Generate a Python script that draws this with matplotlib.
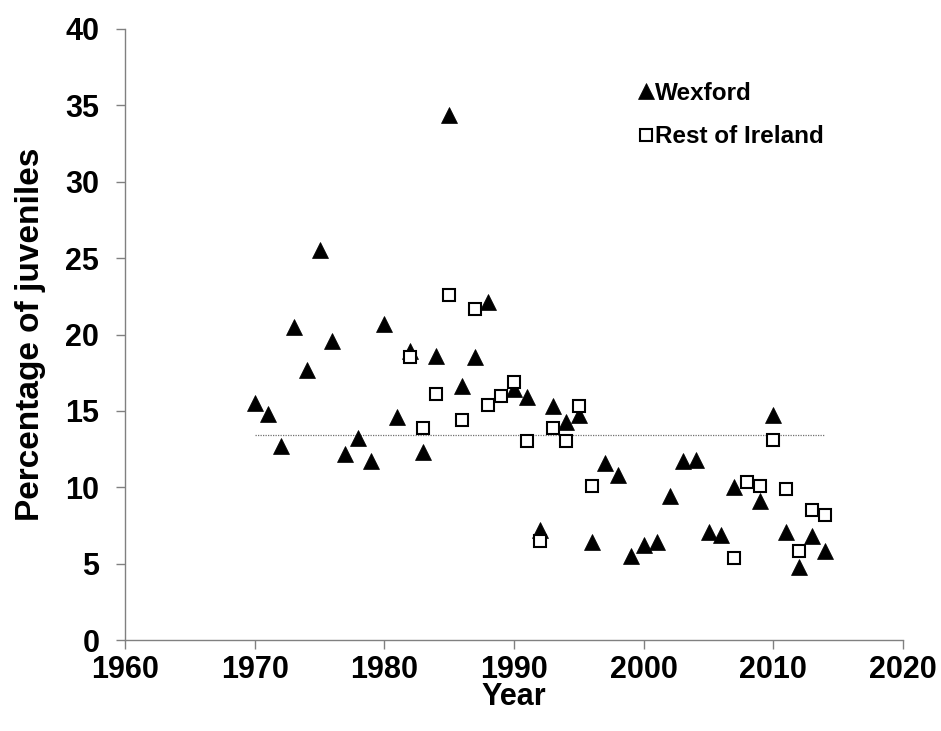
import matplotlib
matplotlib.use("Agg")
import matplotlib.pyplot as plt

plt.rcParams['font.family'] = ['Liberation Sans', 'DejaVu Sans']

# ---- data ----
wex_years = [1970, 1971, 1972, 1973, 1974, 1975, 1976, 1977, 1978, 1979,
             1980, 1981, 1982, 1983, 1984, 1985, 1986, 1987, 1988, 1990,
             1991, 1992, 1993, 1994, 1995, 1996, 1997, 1998, 1999, 2000,
             2001, 2002, 2003, 2004, 2005, 2006, 2007, 2009, 2010, 2011,
             2012, 2013, 2014]
wex_pct = [15.5, 14.8, 12.7, 20.5, 17.7, 25.5, 19.6, 12.2, 13.2, 11.7,
           20.7, 14.6, 18.9, 12.3, 18.6, 34.4, 16.6, 18.5, 22.1, 16.4,
           15.9, 7.2, 15.3, 14.3, 14.7, 6.4, 11.6, 10.8, 5.5, 6.2,
           6.4, 9.4, 11.7, 11.8, 7.1, 6.9, 10.0, 9.1, 14.7, 7.1,
           4.8, 6.8, 5.8]

roi_years = [1982, 1983, 1984, 1985, 1986, 1987, 1988, 1989, 1990, 1991,
             1992, 1993, 1994, 1995, 1996, 2007, 2008, 2009, 2010, 2011,
             2012, 2013, 2014]
roi_pct = [18.5, 13.9, 16.1, 22.6, 14.4, 21.7, 15.4, 16.0, 16.9, 13.0,
           6.5, 13.9, 13.0, 15.3, 10.1, 5.4, 10.35, 10.1, 13.1, 9.9,
           5.8, 8.5, 8.2]

mean_pct = 13.4
mean_span = [1970, 2014]

x_ticks = [1960, 1970, 1980, 1990, 2000, 2010, 2020]
y_ticks = [0, 5, 10, 15, 20, 25, 30, 35, 40]

series_labels = ["Wexford", "Rest of Ireland"]
x_title = "Year"
y_title = "Percentage of juveniles"

# ---- figure ----
fig = plt.figure(figsize=(9.41, 7.31), dpi=100)
ax = fig.add_axes([125 / 941, 1 - 640 / 731, 778 / 941, 611 / 731])

ax.hlines(mean_pct, mean_span[0], mean_span[1], colors='#707070',
          linestyles=(0, (1, 1)), linewidth=0.9, zorder=1)

ax.plot(wex_years, wex_pct, linestyle='none', marker='^', markersize=11,
        markerfacecolor='black', markeredgecolor='black', markeredgewidth=0.5,
        label=series_labels[0], zorder=2)
ax.plot(roi_years, roi_pct, linestyle='none', marker='s', markersize=8.8,
        markerfacecolor='white', markeredgecolor='black', markeredgewidth=1.5,
        label=series_labels[1], zorder=3)

ax.set_xlim(x_ticks[0], x_ticks[-1])
ax.set_ylim(y_ticks[0], y_ticks[-1])
ax.set_xticks(x_ticks)
ax.set_yticks(y_ticks)

for s in ['top', 'right']:
    ax.spines[s].set_visible(False)
for s in ['left', 'bottom']:
    ax.spines[s].set_color('#808080')
    ax.spines[s].set_linewidth(1.0)

ax.tick_params(axis='both', direction='out', length=6.5, width=1.0,
               color='#808080', labelsize=22, labelcolor='black')
ax.tick_params(axis='x', pad=4)
ax.tick_params(axis='y', pad=12)
for lbl in ax.get_xticklabels() + ax.get_yticklabels():
    lbl.set_fontweight('bold')

ax.set_xlabel(x_title, fontsize=22, fontweight='bold')
ax.set_ylabel(y_title, fontsize=24, fontweight='bold')
ax.xaxis.set_label_coords(0.5, -0.069)
ax.yaxis.set_label_coords(-0.101, 0.5)

ax.legend(loc='upper left', bbox_to_anchor=(636 / 941, 1 - 81.5 / 731),
          bbox_transform=fig.transFigure, frameon=False,
          prop={'weight': 'bold', 'size': 17.5}, handlelength=0.8,
          handletextpad=0.0, labelspacing=0.86, borderpad=0,
          borderaxespad=0, numpoints=1)

fig.savefig("out.png", dpi=100)
